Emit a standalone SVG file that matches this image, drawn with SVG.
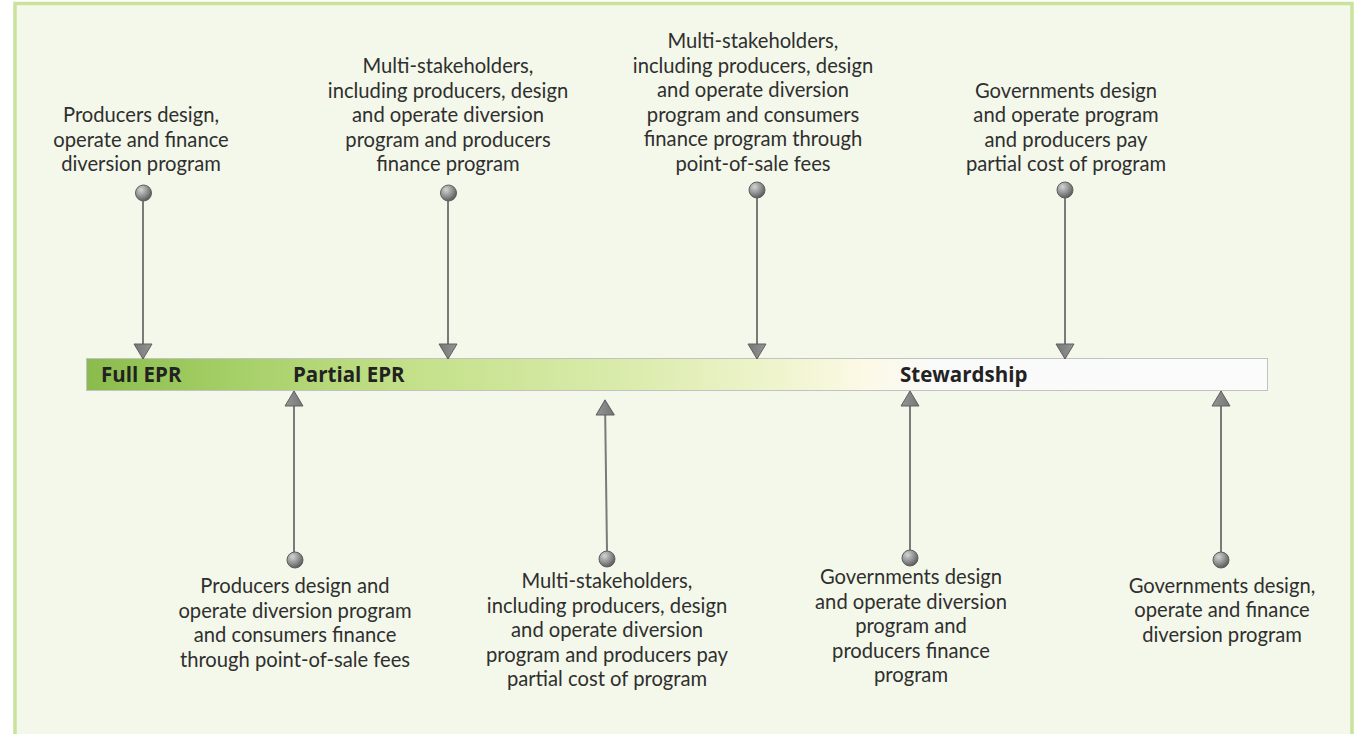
<svg xmlns="http://www.w3.org/2000/svg" width="1357" height="734" viewBox="0 0 1357 734">
  <style>
    .lbl { font-family: Lato, "Noto Sans", "Liberation Sans", sans-serif; font-size: 20.2px; fill: #2f2f2f; text-anchor: middle; }
    .bar-lbl { font-family: "Open Sans", Lato, "Liberation Sans", sans-serif; font-size: 20.5px; font-weight: bold; fill: #222222; }
    .pin { fill: url(#pinGrad); stroke: #5e5e5e; stroke-width: 1; }
    .conn { stroke: #7a7a7a; stroke-width: 2; fill: none; marker-end: url(#arrow); }
  </style>
  <defs>
    <linearGradient id="barGrad" x1="0" y1="0" x2="1" y2="0">
      <stop offset="0" stop-color="#8abb4c"/>
      <stop offset="0.1" stop-color="#a0cc62"/>
      <stop offset="0.27" stop-color="#c3e088"/>
      <stop offset="0.45" stop-color="#d9ebaa"/>
      <stop offset="0.58" stop-color="#eef4cc"/>
      <stop offset="0.66" stop-color="#fcf9e6"/>
      <stop offset="0.72" stop-color="#fafafa"/>
      <stop offset="1" stop-color="#fbfbfb"/>
    </linearGradient>
    <radialGradient id="pinGrad" cx="0.35" cy="0.3" r="0.75">
      <stop offset="0" stop-color="#d4d4d4"/>
      <stop offset="0.6" stop-color="#8a8a8a"/>
      <stop offset="1" stop-color="#555555"/>
    </radialGradient>
    <linearGradient id="arrowGrad" x1="0" y1="0" x2="0" y2="1">
      <stop offset="0" stop-color="#959595"/>
      <stop offset="1" stop-color="#767676"/>
    </linearGradient>
    <marker id="arrow" viewBox="0 0 17 20" refX="16" refY="10" markerWidth="17" markerHeight="20" markerUnits="userSpaceOnUse" orient="auto">
      <path d="M1,1 L16,10 L1,19 Z" fill="url(#arrowGrad)" stroke="#606060" stroke-width="1" stroke-linejoin="round"/>
    </marker>
  </defs>

  <rect x="0" y="0" width="1357" height="734" fill="#ffffff"/>
  <rect id="frame" x="15" y="3.5" width="1337" height="740" fill="#f4f8ea" stroke="#c9e39c" stroke-width="3.5"/>

  <g id="timeline-bar">
    <rect x="86.5" y="358.5" width="1181" height="32" fill="url(#barGrad)" stroke="#c2c2c2" stroke-width="1"/>
    <text class="bar-lbl" x="101" y="382">Full EPR</text>
    <text class="bar-lbl" x="293" y="382">Partial EPR</text>
    <text class="bar-lbl" x="900" y="382">Stewardship</text>
  </g>

  <g id="connectors">
    <line class="conn" x1="143" y1="201" x2="143" y2="359"/>
    <line class="conn" x1="448" y1="201" x2="448" y2="359"/>
    <line class="conn" x1="757" y1="198" x2="757" y2="359"/>
    <line class="conn" x1="1065" y1="198" x2="1065" y2="359"/>
    <line class="conn" x1="294" y1="552" x2="294" y2="391"/>
    <line class="conn" x1="607" y1="551" x2="605" y2="400"/>
    <line class="conn" x1="910" y1="550" x2="910" y2="391"/>
    <line class="conn" x1="1221" y1="552" x2="1221" y2="391"/>
  </g>

  <g id="node-full-epr-producers">
    <circle class="pin" cx="143.5" cy="193" r="8"/>
    <text class="lbl" x="141" y="122">Producers design,</text>
    <text class="lbl" x="141" y="146.5">operate and finance</text>
    <text class="lbl" x="141" y="171">diversion program</text>
  </g>

  <g id="node-multi-producers-finance">
    <circle class="pin" cx="448.5" cy="193" r="8"/>
    <text class="lbl" x="448" y="73">Multi-stakeholders,</text>
    <text class="lbl" x="448" y="97.5">including producers, design</text>
    <text class="lbl" x="448" y="122">and operate diversion</text>
    <text class="lbl" x="448" y="146.5">program and producers</text>
    <text class="lbl" x="448" y="171">finance program</text>
  </g>

  <g id="node-multi-consumers-finance">
    <circle class="pin" cx="757" cy="190" r="8"/>
    <text class="lbl" x="753" y="48">Multi-stakeholders,</text>
    <text class="lbl" x="753" y="72.5">including producers, design</text>
    <text class="lbl" x="753" y="97">and operate diversion</text>
    <text class="lbl" x="753" y="121.5">program and consumers</text>
    <text class="lbl" x="753" y="146">finance program through</text>
    <text class="lbl" x="753" y="170.5">point-of-sale fees</text>
  </g>

  <g id="node-gov-producers-partial">
    <circle class="pin" cx="1065" cy="190" r="8"/>
    <text class="lbl" x="1066" y="97.5">Governments design</text>
    <text class="lbl" x="1066" y="122">and operate program</text>
    <text class="lbl" x="1066" y="146.5">and producers pay</text>
    <text class="lbl" x="1066" y="171">partial cost of program</text>
  </g>

  <g id="node-producers-consumers-fees">
    <circle class="pin" cx="295" cy="560" r="8"/>
    <text class="lbl" x="295" y="593">Producers design and</text>
    <text class="lbl" x="295" y="617.5">operate diversion program</text>
    <text class="lbl" x="295" y="642">and consumers finance</text>
    <text class="lbl" x="295" y="666.5">through point-of-sale fees</text>
  </g>

  <g id="node-multi-producers-partial">
    <circle class="pin" cx="607" cy="559" r="8"/>
    <text class="lbl" x="607" y="588">Multi-stakeholders,</text>
    <text class="lbl" x="607" y="612.5">including producers, design</text>
    <text class="lbl" x="607" y="637">and operate diversion</text>
    <text class="lbl" x="607" y="661.5">program and producers pay</text>
    <text class="lbl" x="607" y="686">partial cost of program</text>
  </g>

  <g id="node-gov-producers-finance">
    <circle class="pin" cx="910" cy="558" r="8"/>
    <text class="lbl" x="911" y="584">Governments design</text>
    <text class="lbl" x="911" y="608.5">and operate diversion</text>
    <text class="lbl" x="911" y="633">program and</text>
    <text class="lbl" x="911" y="657.5">producers finance</text>
    <text class="lbl" x="911" y="682">program</text>
  </g>

  <g id="node-gov-full">
    <circle class="pin" cx="1221" cy="560" r="8"/>
    <text class="lbl" x="1222" y="592.5">Governments design,</text>
    <text class="lbl" x="1222" y="617">operate and finance</text>
    <text class="lbl" x="1222" y="641.5">diversion program</text>
  </g>
</svg>
